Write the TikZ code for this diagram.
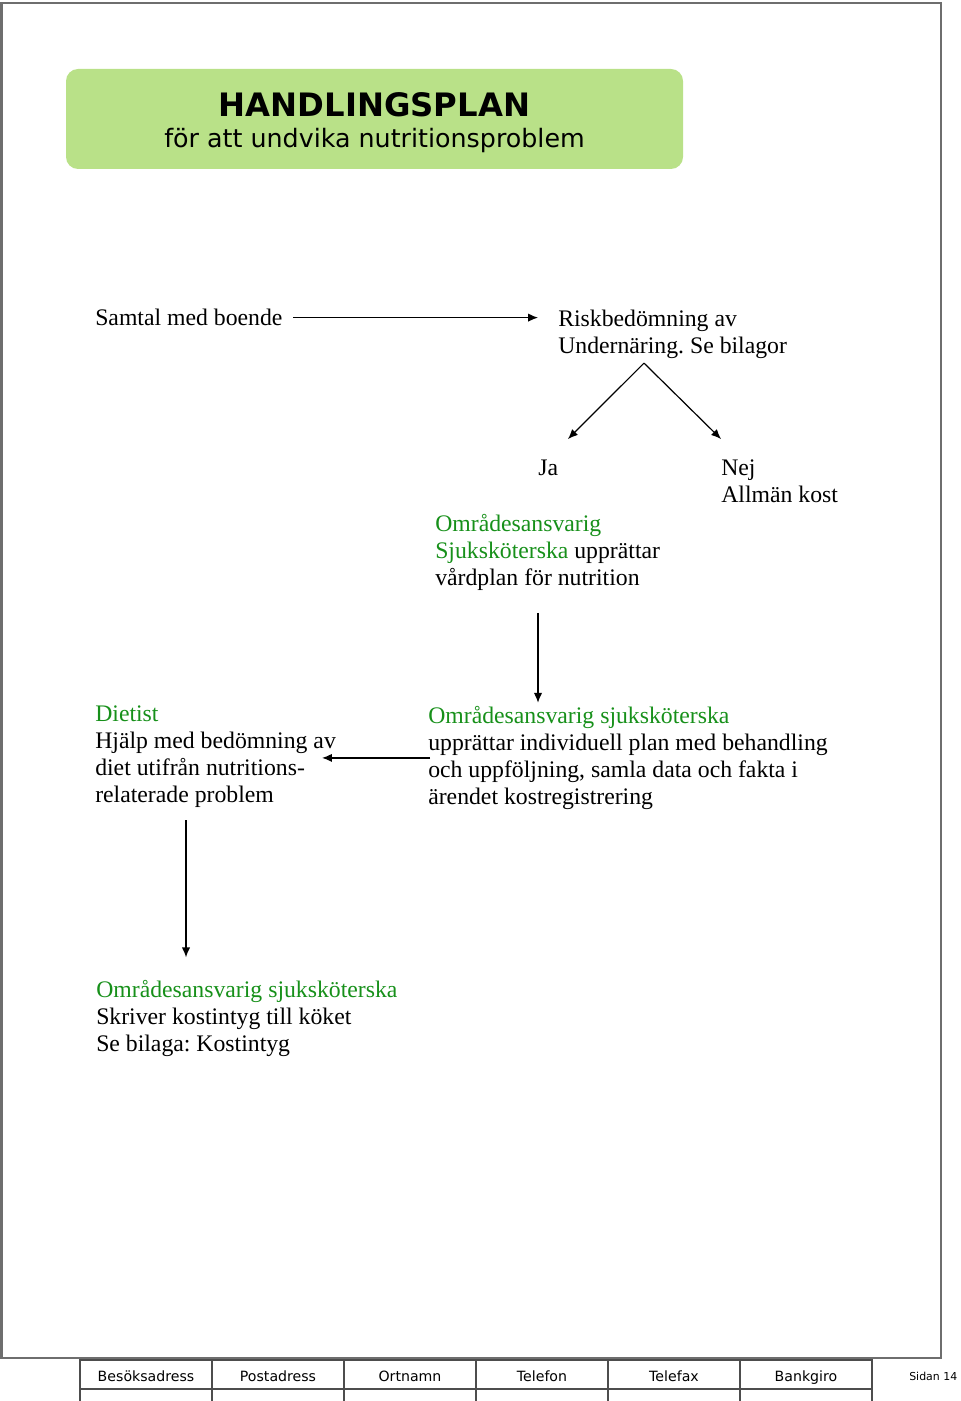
\documentclass[tikz,border=0pt]{standalone}
\usepackage{fontspec}
\setmainfont{Liberation Serif}
\newfontfamily\verd{DejaVu Sans}
\usetikzlibrary{arrows.meta,positioning,calc}
\definecolor{titlefill}{HTML}{B9E188}
\definecolor{grn}{HTML}{17901A}
\definecolor{pagegray}{HTML}{6E6E6E}
\tikzset{
  ptxt/.style={anchor=north west,align=left,inner sep=0pt,font=\fontsize{17.8}{20.25}\selectfont},
  parr/.style={-{Latex[length=2.6mm,width=2.2mm]},line width=0.9pt,draw=black},
  pframe/.style={line width=1.5pt,draw=pagegray},
  ftab/.style={line width=1.3pt,draw=pagegray!70!black},
  fhead/.style={font=\verd\fontsize{10.6}{12}\selectfont,anchor=base,inner sep=0pt},
  tbox/.style={fill=titlefill,rounded corners=9pt,inner sep=0pt,minimum width=462.75pt,minimum height=75pt}
}
\frenchspacing

\begin{document}
\begin{tikzpicture}[x=0.75pt,y=-0.75pt]
  \useasboundingbox (0,0) rectangle (960,1401);
  % page frame
  \draw[pframe] (1.5,3.5) rectangle (940.5,1357.5);
  % title
  \node[tbox] (head) at (374.5,119) {};
  \node[font=\verd\bfseries\fontsize{24.2}{26}\selectfont,anchor=base] (ttl) at (374.5,117) {HANDLINGSPLAN};
  \node[font=\verd\fontsize{19}{22}\selectfont,anchor=base] (sub) at (374.5,148) {för att undvika nutritionsproblem};
  % first row
  \node[ptxt] (samtal) at (95,309) {Samtal med boende};
  \node[ptxt] (risk) at (558,310) {Riskbedömning av\\Undernäring. Se bilagor};
  \draw[parr,shorten <=8pt,shorten >=15pt] (samtal) -- (samtal -| risk.west);
  % ja / nej
  \node[ptxt] (ja) at (538,460) {Ja};
  \node[ptxt] (nej) at (721,460) {Nej\\Allmän kost};
  \coordinate (fork) at ($(risk.south west)+(86,4)$);
  \draw[parr] (fork) -- ($(ja.north west)+(30,-21)$);
  \draw[parr] (fork) -- ($(nej.north west)+(0,-21)$);
  \node[ptxt] (vard) at (435,514) {\textcolor{grn}{Områdesansvarig}\\\textcolor{grn}{Sjuksköterska} upprättar\\vårdplan för nutrition};
  % second row
  \node[ptxt] (omr) at (428,706) {\textcolor{grn}{Områdesansvarig sjuksköterska}\\upprättar individuell plan med behandling\\och uppföljning, samla data och fakta i\\ärendet kostregistrering};
  \node[ptxt] (diet) at (95,706) {\textcolor{grn}{Dietist}\\Hjälp med bedömning av\\diet utifrån nutritions-\\relaterade problem};
  \draw[parr] ($(vard.south west)+(103,22)$) -- ($(vard.south west)+(103,112)$);
  \draw[parr,shorten <=-1.5pt,shorten >=-10.5pt] (omr.west) -- (omr.west -| diet.east);
  % third row
  \node[ptxt] (kost) at (96,980) {\textcolor{grn}{Områdesansvarig sjuksköterska}\\Skriver kostintyg till köket\\Se bilaga: Kostintyg};
  \draw[parr] ($(diet.south west)+(91,12)$) -- ($(diet.south west)+(91,149)$);
  % footer
  \draw[ftab] (80,1401) |- (872,1360) -- (872,1401);
  \draw[ftab] (80,1389) -- (872,1389);
  \foreach \x in {212,344,476,608,740}
    \draw[ftab] (\x,1360) -- (\x,1401);
  \foreach \lbl [count=\i] in {Besöksadress,Postadress,Ortnamn,Telefon,Telefax,Bankgiro}
    \node[fhead] (col\i) at ({14+132*\i},1381) {\lbl};
  \node[font=\verd\fontsize{8.2}{10}\selectfont,anchor=base west,inner sep=0pt] (sida) at (909,1380) {Sidan 14};
\end{tikzpicture}
\end{document}
